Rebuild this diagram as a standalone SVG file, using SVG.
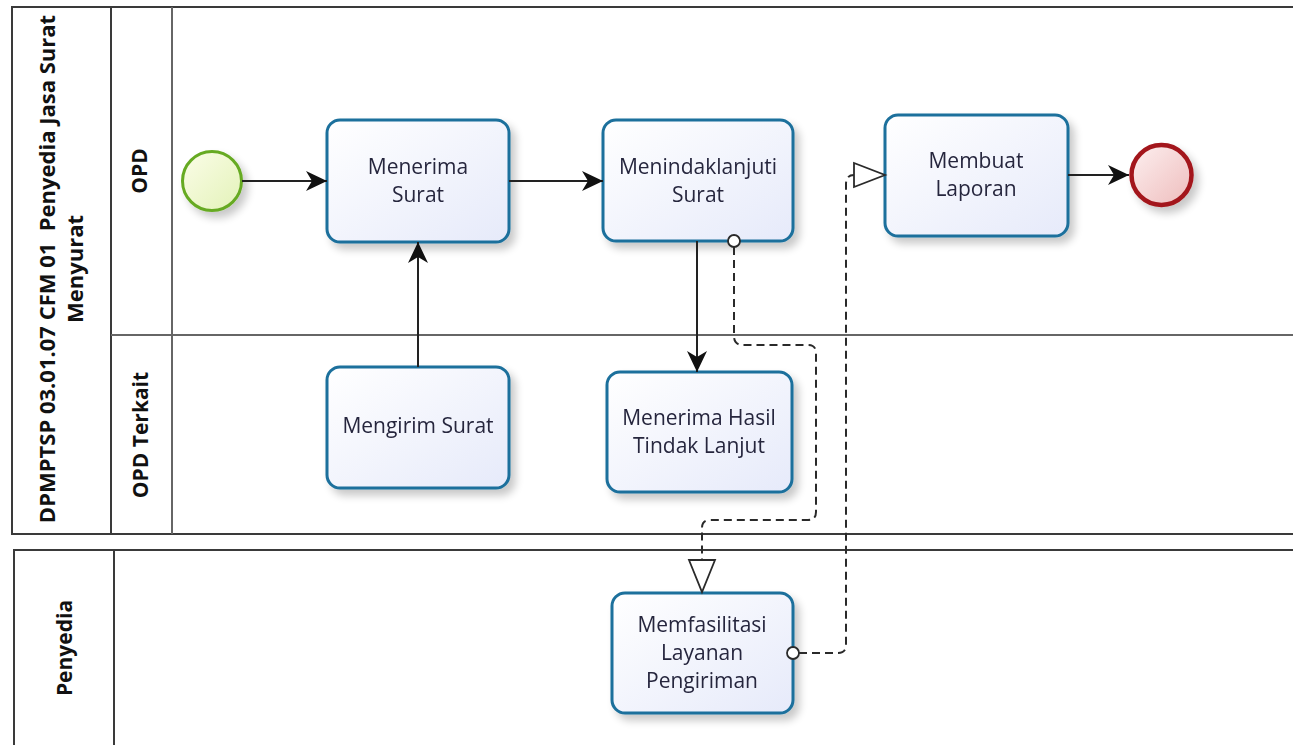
<svg xmlns="http://www.w3.org/2000/svg" width="1293" height="745" viewBox="0 0 1293 745">
<defs>
<style>
.pool{fill:none;stroke:#3a3a3a;stroke-width:2}
.lane{fill:none;stroke:#666;stroke-width:2}
.task{stroke:#1b6f9c;stroke-width:3;fill:url(#gTask)}
.tt{font-family:"Open Sans","Noto Sans",sans-serif;font-size:21px;fill:#26263e;text-anchor:middle}
.lbl{font-family:"Open Sans","Noto Sans",sans-serif;font-size:21px;font-weight:bold;fill:#111;text-anchor:middle}
.plbl{font-family:"Open Sans","Noto Sans",sans-serif;font-size:22px;font-weight:bold;fill:#111;text-anchor:middle;white-space:pre}
.seq{fill:none;stroke:#222;stroke-width:2}
.msg{fill:none;stroke:#2a2a2a;stroke-width:2;stroke-dasharray:8 5}
.mstart{fill:#fff;stroke:#2a2a2a;stroke-width:1.8}
.mend{fill:#fff;stroke:#2a2a2a;stroke-width:1.8}
</style>
<linearGradient id="gTask" x1="0" y1="0" x2="1" y2="1">
<stop offset="0" stop-color="#ffffff"/>
<stop offset="1" stop-color="#e6eafa"/>
</linearGradient>
<linearGradient id="gStart" x1="0" y1="0" x2="1" y2="1">
<stop offset="0" stop-color="#fbfde8"/>
<stop offset="1" stop-color="#e3f2b8"/>
</linearGradient>
<linearGradient id="gEnd" x1="0" y1="0" x2="1" y2="1">
<stop offset="0" stop-color="#fdf0f0"/>
<stop offset="1" stop-color="#eebcbc"/>
</linearGradient>
<filter id="sh" x="-20%" y="-20%" width="150%" height="150%">
<feGaussianBlur in="SourceAlpha" stdDeviation="4"/>
<feOffset dx="5" dy="6" result="o"/>
<feComponentTransfer><feFuncA type="linear" slope="0.22"/></feComponentTransfer>
<feMerge><feMergeNode/><feMergeNode in="SourceGraphic"/></feMerge>
</filter>
<marker id="arr" viewBox="0 0 22 22" refX="21" refY="11" markerWidth="22" markerHeight="22" markerUnits="userSpaceOnUse" orient="auto">
<path d="M0,1 L21,11 L0,21 L6,11 Z" fill="#111"/>
</marker>
</defs>

<g id="pool-dpmptsp">
<rect class="pool" x="12" y="7" width="1300" height="527"/>
<line class="pool" x1="111" y1="7" x2="111" y2="534"/>
<line class="lane" x1="172" y1="7" x2="172" y2="534"/>
<line class="lane" x1="111" y1="335" x2="1300" y2="335"/>
<text class="plbl" transform="translate(55,269) rotate(-90)" xml:space="preserve">DPMPTSP 03.01.07 CFM 01  Penyedia Jasa Surat</text>
<text class="plbl" transform="translate(83,269) rotate(-90)">Menyurat</text>
<text class="lbl" transform="translate(147,171) rotate(-90)">OPD</text>
<text class="lbl" transform="translate(148,435) rotate(-90)">OPD Terkait</text>
</g>

<g id="pool-penyedia">
<rect class="pool" x="14" y="550" width="1300" height="210"/>
<line class="pool" x1="114" y1="550" x2="114" y2="760"/>
<text class="lbl" transform="translate(72,648) rotate(-90)">Penyedia</text>
</g>

<g id="start-event" filter="url(#sh)">
<circle cx="212" cy="181" r="29.5" fill="url(#gStart)" stroke="#66aa22" stroke-width="3"/>
</g>

<g id="task-menerima-surat" filter="url(#sh)">
<rect class="task" x="327" y="120" width="182" height="122" rx="13"/>
<text class="tt" x="418" y="174">Menerima</text>
<text class="tt" x="418" y="202">Surat</text>
</g>

<g id="task-menindaklanjuti-surat" filter="url(#sh)">
<rect class="task" x="603" y="120" width="190" height="121" rx="13"/>
<text class="tt" x="698" y="174">Menindaklanjuti</text>
<text class="tt" x="698" y="202">Surat</text>
</g>

<g id="task-membuat-laporan" filter="url(#sh)">
<rect class="task" x="885" y="115" width="183" height="121" rx="13"/>
<text class="tt" x="976" y="168">Membuat</text>
<text class="tt" x="976" y="196">Laporan</text>
</g>

<g id="end-event" filter="url(#sh)">
<circle cx="1161.5" cy="175" r="30" fill="url(#gEnd)" stroke="#a3161b" stroke-width="4.5"/>
</g>

<g id="task-mengirim-surat" filter="url(#sh)">
<rect class="task" x="327" y="367" width="182" height="121" rx="13"/>
<text class="tt" x="418" y="433">Mengirim Surat</text>
</g>

<g id="task-menerima-hasil" filter="url(#sh)">
<rect class="task" x="607" y="372" width="185" height="120" rx="13"/>
<text class="tt" x="699" y="425">Menerima Hasil</text>
<text class="tt" x="699" y="453">Tindak Lanjut</text>
</g>

<g id="task-memfasilitasi" filter="url(#sh)">
<rect class="task" x="612" y="593" width="181" height="120" rx="13"/>
<text class="tt" x="702" y="632">Memfasilitasi</text>
<text class="tt" x="702" y="660">Layanan</text>
<text class="tt" x="702" y="688">Pengiriman</text>
</g>

<g id="connectors">
<line class="seq" x1="242" y1="181" x2="327" y2="181" marker-end="url(#arr)"/>
<line class="seq" x1="509" y1="181" x2="603" y2="181" marker-end="url(#arr)"/>
<line class="seq" x1="418" y1="367" x2="418" y2="242" marker-end="url(#arr)"/>
<line class="seq" x1="697" y1="241" x2="697" y2="372" marker-end="url(#arr)"/>
<line class="seq" x1="1068" y1="175" x2="1129" y2="175" marker-end="url(#arr)"/>
<path class="msg" d="M734,247 L734,336 Q734,345 743,345 L808,345 Q816,345 816,353 L816,512 Q816,520 808,520 L710,520 Q702,520 702,528 L702,560"/>
<circle class="mstart" cx="734" cy="241" r="6"/>
<path class="mend" d="M689,560 L715,560 L702,592 Z"/>
<path class="msg" d="M799,653 L838,653 Q846,653 846,645 L846,184 Q846,175 854,175"/>
<circle class="mstart" cx="793" cy="653" r="6"/>
<path class="mend" d="M854,163 L854,187 L885,175 Z"/>
</g>
</svg>
